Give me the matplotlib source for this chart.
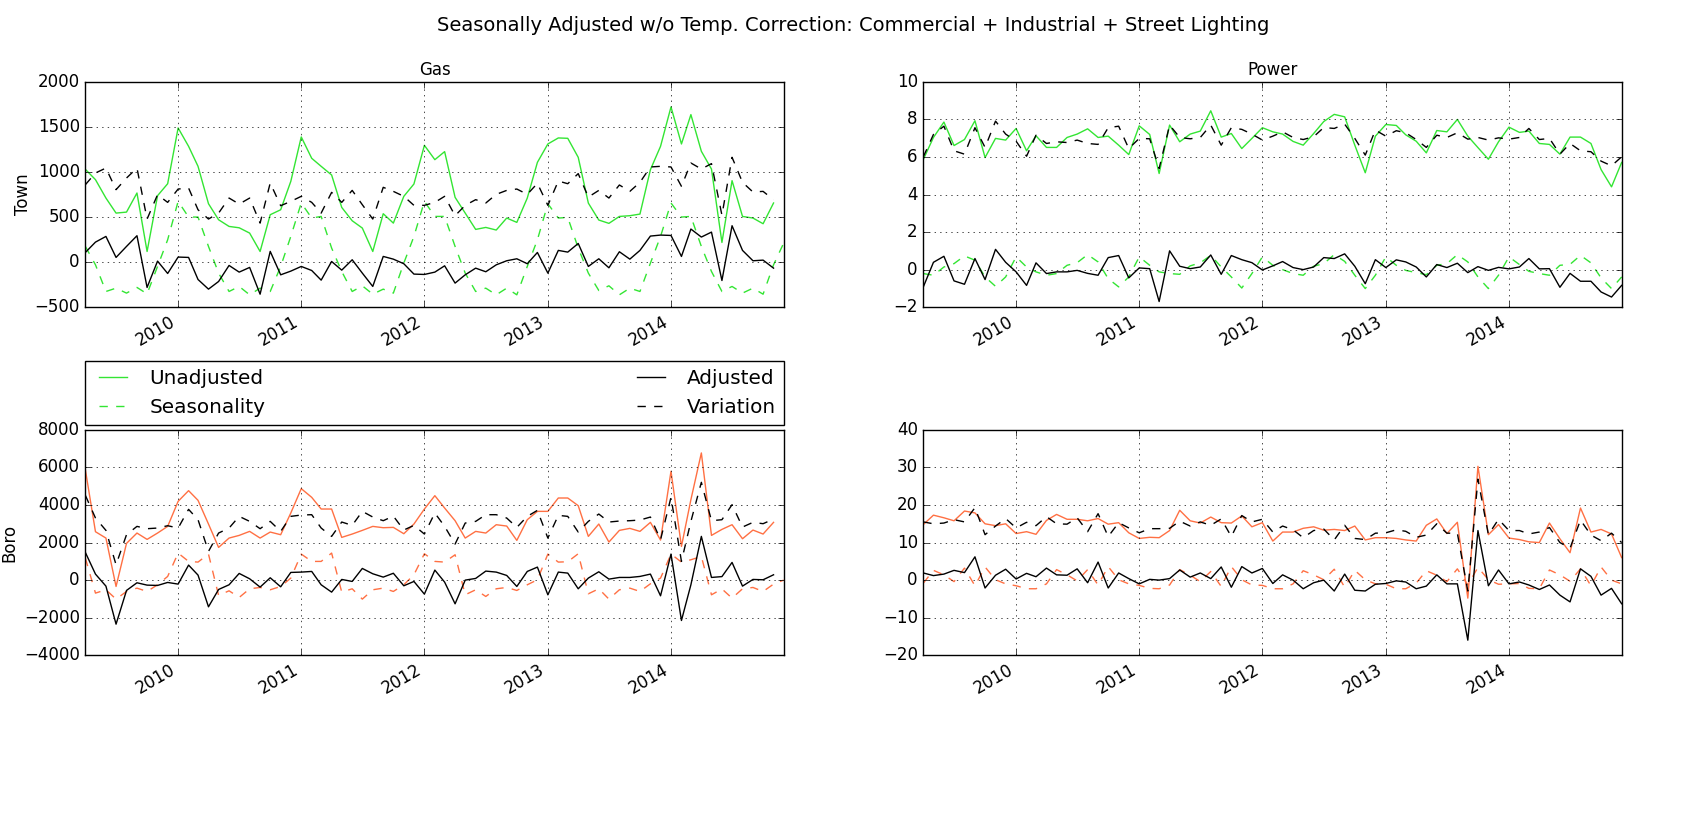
#!/usr/bin/python
# -*- coding: utf-8 -*-
import matplotlib
matplotlib.use('Agg')
import matplotlib.pyplot as plt
import matplotlib.dates as mdates
import pandas as pd

plt.style.use('classic')

dates = pd.date_range('2009-04-01', periods=69, freq='MS')

# one row per calendar year, first row Apr-Dec 2009
gas_town_unadj = [1030,915,711,544,555,767,118,737,870,
    1489,1285,1063,648,470,396,381,322,118,526,581,896,
    1389,1152,1063,967,607,459,378,118,537,433,730,867,
    1296,1137,1226,719,544,363,385,356,489,441,711,1107,
    1311,1378,1374,1163,655,467,430,507,515,533,1026,1285,
    1722,1311,1637,1230,1033,218,904,507,489,426,656]
gas_town_season = [174,-30,-326,-289,-344,-281,-352,-48,248,
    674,500,500,174,-122,-326,-270,-363,-289,-326,-48,285,
    656,489,507,156,-104,-326,-263,-356,-300,-344,-11,285,
    674,507,507,174,-122,-326,-289,-363,-289,-363,-48,248,
    648,489,496,156,-122,-315,-263,-363,-289,-326,-11,285,
    656,500,507,174,-104,-326,-270,-344,-289,-356,-30,211]
gas_town_adj = [107,222,285,52,174,293,-281,11,-126,
    56,52,-193,-300,-215,-37,-111,-59,-356,119,-141,-100,
    -48,-93,-200,7,-89,26,-122,-270,63,33,-18,-133,
    -137,-111,-41,-233,-141,-67,-107,-30,15,37,-18,107,
    -122,130,111,207,-48,37,-63,115,33,130,289,300,
    296,63,367,278,333,-204,404,130,15,22,-67]
gas_town_var = [859,989,1044,804,933,1044,478,748,663,
    811,822,581,478,544,711,644,711,433,878,626,674,
    730,663,544,774,663,796,637,478,830,785,730,630,
    630,663,730,515,630,693,656,752,796,811,752,874,
    630,900,870,982,722,796,711,856,785,885,1056,1063,
    1056,841,1100,1033,1093,520,1163,885,778,785,692]

pow_town_unadj = [5.87,7.04,7.86,6.61,6.93,7.93,5.97,6.99,6.9,
    7.52,6.33,7.13,6.51,6.51,7.04,7.22,7.5,7.04,7.11,6.63,6.13,
    7.66,7.2,5.12,7.7,6.81,7.22,7.38,8.46,7.06,7.25,6.45,6.99,
    7.56,7.34,7.22,6.83,6.63,7.25,7.89,8.27,8.14,6.63,5.16,7.11,
    7.73,7.68,7.18,6.84,6.22,7.41,7.34,8.0,7.11,6.5,5.88,6.81,
    7.59,7.31,7.38,6.72,6.67,6.15,7.06,7.06,6.72,5.33,4.41,5.71]
pow_town_season = [-0.21,-0.3,0.14,0.32,0.73,0.5,-0.39,-0.89,-0.39,
    0.68,0.14,-0.12,-0.3,-0.21,0.23,0.37,0.8,0.41,-0.48,-0.92,-0.39,
    0.68,0.23,-0.12,-0.21,-0.25,0.2,0.36,0.76,0.14,-0.39,-0.98,-0.21,
    0.68,0.23,0.0,-0.21,-0.3,0.18,0.32,0.8,0.44,-0.3,-1.01,-0.3,
    0.68,0.23,-0.04,-0.16,-0.27,0.23,0.32,0.8,0.41,-0.39,-1.01,-0.3,
    0.68,0.27,-0.09,-0.21,-0.3,0.23,0.28,0.76,0.36,-0.44,-1.01,-0.39]
pow_town_adj = [-0.92,0.39,0.71,-0.6,-0.78,0.59,-0.53,1.08,0.39,
    -0.12,-0.84,0.36,-0.21,-0.12,-0.12,-0.04,-0.2,-0.3,0.64,0.75,-0.44,
    0.09,0.05,-1.7,1.0,0.18,0.05,0.14,0.78,-0.25,0.75,0.53,0.37,
    -0.02,0.2,0.43,0.11,0.0,0.14,0.64,0.59,0.84,0.18,-0.75,0.53,
    0.11,0.52,0.41,0.14,-0.39,0.27,0.11,0.34,-0.16,0.16,-0.04,0.12,
    0.04,0.14,0.59,0.04,0.05,-0.94,-0.2,-0.62,-0.62,-1.19,-1.46,-0.84]
pow_town_var = [6.01,7.2,7.64,6.33,6.15,7.56,6.51,7.91,7.22,
    6.84,6.04,7.16,6.72,6.81,6.77,6.9,6.72,6.67,7.56,7.64,6.45,
    6.99,6.97,5.39,7.7,7.04,6.97,7.04,7.7,6.63,7.56,7.47,7.22,
    6.9,7.11,7.34,7.04,6.93,7.08,7.57,7.52,7.75,6.99,6.1,7.43,
    7.11,7.4,7.29,6.93,6.51,7.16,7.04,7.29,6.95,7.04,6.9,7.02,
    6.95,7.04,7.52,6.93,6.99,6.15,6.72,6.33,6.28,5.78,5.53,6.01]

gas_boro_unadj = [5885,2578,2240,-338,1956,2507,2169,2507,2862,
    4196,4765,4249,2987,1742,2240,2382,2596,2240,2560,2418,3574,
    4872,4409,3787,3787,2276,2454,2649,2862,2791,2809,2471,2987,
    3787,4498,3840,3165,2240,2596,2507,2951,2880,2116,3218,3662,
    3662,4374,4374,3965,2329,2987,2027,2649,2756,2596,3076,2134,
    5796,1796,4285,6774,2382,2702,2951,2204,2667,2454,3076]
gas_boro_season = [1173,-693,-515,-1013,-604,-427,-604,-249,196,
    1440,996,960,1387,-818,-569,-924,-462,-391,-515,-338,107,
    1387,996,996,1440,-640,-462,-1013,-515,-427,-604,-249,284,
    1405,996,960,1351,-782,-515,-871,-462,-391,-551,-249,18,
    1387,960,978,1405,-729,-462,-1013,-515,-427,-604,-196,107,
    1387,960,1084,1262,-782,-470,-960,-462,-391,-605,-213,0]
gas_boro_adj = [1476,320,-320,-2347,-551,-142,-267,-284,-124,
    -213,800,267,-1422,-498,-249,356,71,-373,124,-356,409,
    427,462,-249,-640,36,-71,622,338,160,365,-302,-71,
    -747,533,-107,-1262,0,89,480,427,249,-338,462,693,
    -782,427,373,-462,107,444,53,142,142,196,320,-836,
    1387,-2151,-249,2329,142,187,942,-320,36,18,284]
gas_boro_var = [4516,3307,2649,818,2418,2862,2738,2774,2898,
    2774,3769,3218,1529,2507,2774,3396,3129,2738,3129,2596,3396,
    3467,3485,2774,2329,3094,2916,3663,3360,3165,3410,2667,2916,
    2454,3574,2862,1920,3040,3129,3485,3485,3307,2809,3396,3716,
    2240,3449,3396,2560,3129,3520,3094,3147,3165,3200,3360,2151,
    4409,996,3129,5209,3165,3218,4018,2827,3076,3005,3254]

pow_boro_unadj = [14.8,17.3,16.6,15.8,18.4,17.9,15.0,14.5,15.0,
    12.4,12.9,12.2,15.9,17.5,16.2,16.2,15.8,16.4,14.9,15.3,12.6,
    11.1,11.4,11.3,13.2,18.6,15.8,15.2,16.8,15.3,15.2,17.1,14.2,
    15.3,10.4,12.8,12.8,13.8,14.2,13.3,13.5,13.2,14.4,10.7,11.3,
    11.3,11.1,10.7,10.4,14.6,16.3,12.4,15.4,-4.8,30.3,12.1,14.8,
    11.2,10.8,10.2,10.0,15.2,11.0,7.3,19.2,12.8,13.5,12.3,6.0]
pow_boro_season = [-0.8,2.6,1.4,-0.4,3.2,-1.5,3.5,0.1,-1.0,
    -1.5,-2.3,-2.3,-1.0,2.8,1.4,-0.2,2.8,-1.3,3.6,0.1,-1.0,
    -1.4,-2.2,-2.3,-1.3,2.8,1.3,-0.4,2.3,-1.7,3.6,0.1,-1.3,
    -1.4,-2.3,-2.3,-1.0,2.5,1.4,0.1,2.9,-1.9,2.6,0.1,-1.0,
    -1.1,-2.3,-2.3,-0.8,2.5,1.3,-0.4,3.0,-1.3,3.4,0.1,-1.1,
    -1.0,-0.9,-2.2,-2.3,2.7,1.4,-0.3,3.0,-1.5,3.5,0.0,-1.0]
pow_boro_adj = [1.9,1.2,1.6,2.6,2.0,6.2,-2.1,1.3,2.9,
    0.3,1.8,0.9,3.2,1.4,1.3,3.0,-0.7,4.8,-2.1,1.9,0.4,
    -1.0,0.2,0.0,0.4,2.7,0.8,1.9,0.4,3.5,-1.9,3.6,1.9,
    3.1,-0.9,1.4,0.0,-2.3,-0.7,0.0,-2.9,1.6,-2.7,-2.9,-1.1,
    -0.9,-0.2,-0.5,-2.3,-1.6,1.4,-1.0,-1.0,-16.0,13.2,-1.5,2.7,
    -1.0,-0.5,-1.3,-2.5,-1.3,-4.0,-5.8,3.0,1.0,-4.0,-2.2,-6.3]
pow_boro_var = [15.5,15.0,15.2,16.1,15.5,19.3,12.1,14.4,16.4,
    13.9,15.4,14.5,16.9,15.0,14.9,16.6,12.9,17.7,11.6,15.3,13.9,
    12.6,13.7,13.7,13.8,15.7,14.4,15.5,14.6,16.3,11.6,17.2,15.5,
    16.2,12.8,14.4,13.4,11.3,13.2,13.6,10.7,14.6,11.1,10.8,12.5,
    12.6,13.4,13.0,11.4,12.0,15.0,12.5,12.5,-2.9,26.9,12.1,16.2,
    13.2,13.2,12.3,12.8,14.0,10.0,8.5,16.0,12.0,10.5,12.5,10.0]

GREEN = '#33E533'
ORANGE = '#FF7043'

def draw_panel(ax, unadj, season, adj, var, color, ylim):
    ax.plot(dates[:len(unadj)], unadj, color=color, ls='-', label='Unadjusted')
    ax.plot(dates[:len(season)], season, color=color, ls='--', label='Seasonality')
    ax.plot(dates[:len(adj)], adj, color='k', ls='-', label='Adjusted')
    ax.plot(dates[:len(var)], var, color='k', ls='--', label='Variation')
    ax.set_xlim(dates[0], dates[-1])
    ax.set_ylim(*ylim)
    ax.xaxis.set_major_locator(mdates.YearLocator())
    ax.xaxis.set_major_formatter(mdates.DateFormatter('%Y'))
    ax.grid(True)
    ax.tick_params(labelsize=12)
    plt.setp(ax.get_xticklabels(), rotation=30, ha='right')

fig, axes = plt.subplots(2, 2, figsize=(17.07, 8.19), dpi=100, facecolor='w')
fig.subplots_adjust(left=0.05, right=0.95, top=0.9, bottom=0.2, wspace=0.2, hspace=0.545)

draw_panel(axes[0, 0], gas_town_unadj, gas_town_season, gas_town_adj, gas_town_var, GREEN, (-500, 2000))
draw_panel(axes[0, 1], pow_town_unadj, pow_town_season, pow_town_adj, pow_town_var, GREEN, (-2, 10))
draw_panel(axes[1, 0], gas_boro_unadj, gas_boro_season, gas_boro_adj, gas_boro_var, ORANGE, (-4000, 8000))
draw_panel(axes[1, 1], pow_boro_unadj, pow_boro_season, pow_boro_adj, pow_boro_var, ORANGE, (-20, 40))

axes[0, 0].set_title('Gas', fontsize=12)
axes[0, 1].set_title('Power', fontsize=12)
axes[0, 0].set_ylabel('Town', fontsize=12, labelpad=2)
axes[1, 0].set_ylabel('Boro', fontsize=12, labelpad=4)

handles, labels = axes[0, 0].get_legend_handles_labels()
axes[1, 0].legend(handles, labels, bbox_to_anchor=(0., 1.02, 1., .102), loc='lower left',
                  ncol=2, mode='expand', borderaxespad=0., fontsize=14.4)

fig.suptitle('Seasonally Adjusted w/o Temp. Correction: Commercial + Industrial + Street Lighting', fontsize=14)
fig.savefig('out.png', dpi=100)
